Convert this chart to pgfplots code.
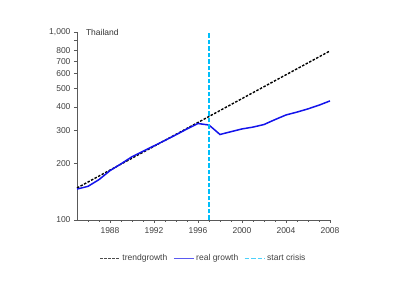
\documentclass[border=0pt]{standalone}
\usepackage{pgfplots}
\pgfplotsset{compat=1.18}
\usepackage{fontspec}
\setmainfont{Liberation Sans}
\definecolor{realblue}{RGB}{20,20,235}
\definecolor{crisis}{RGB}{0,190,250}
\begin{document}
\begin{tikzpicture}
\path (0pt,0pt) rectangle (400pt,300pt);
\begin{axis}[
  at={(77pt,80pt)}, anchor=south west,
  scale only axis, width=253pt, height=188pt,
  ymode=log, xmin=1985, xmax=2008, ymin=100, ymax=1000,
  axis x line*=bottom, axis y line*=left,
  axis line style={gray!70!black, line width=0.7pt},
  xtick={1988,1992,1996,2000,2004,2008},
  xticklabels={1988,1992,1996,2000,2004,2008},
  minor xtick={1986,1987,1989,1990,1991,1993,1994,1995,1997,1998,1999,2001,2002,2003,2005,2006,2007},
  ytick={100,200,300,400,500,600,700,800,900,1000},
  yticklabels={100,200,300,400,500,600,700,800,,{1,000}},
  tick align=outside, tick pos=left,
  major tick length=3pt, minor tick length=2pt,
  tick style={gray!70!black, line width=0.6pt},
  ticklabel style={font=\fontsize{8.5}{10}\selectfont, text=black!75},
  xticklabel style={yshift=-1pt},
  legend style={at={(0.5,-0.205)}, anchor=center, draw=none, fill=none,
    font=\fontsize{8.5}{10}\selectfont, text=black!75, legend columns=-1,
    /tikz/every even column/.append style={column sep=4pt}},
  legend image code/.code={\draw[#1, line width=0.9pt, opacity=0.7] (0pt,0pt) -- (20pt,0pt);},
  clip=false,
]
\addplot[black, line width=1.4pt, dash pattern=on 2.5pt off 1.5pt] coordinates {
(1985,148)(1986,159.2)(1987,171.3)(1988,184.2)(1989,198.2)(1990,213.2)(1991,229.3)
(1992,246.7)(1993,265.4)(1994,285.5)(1995,307.1)(1996,330.3)(1997,355.3)(1998,382.2)
(1999,411.2)(2000,442.3)(2001,475.8)(2002,511.8)(2003,550.6)(2004,592.3)(2005,637.1)
(2006,685.4)(2007,737.3)(2008,793.1)};
\addlegendentry{trendgrowth}
\addplot[color=realblue, line width=1.5pt] coordinates {
(1985,146)(1986,151)(1987,164)(1988,183)(1989,199)(1990,217)(1991,232)(1992,248)
(1993,265)(1994,284)(1995,305)(1996,326)(1997,320)(1998,285)(1999,295)(2000,305)
(2001,312)(2002,322)(2003,342)(2004,362)(2005,375)(2006,390)(2007,408)(2008,430)};
\addlegendentry{real growth}
\addplot[color=crisis, line width=1.2pt, dash pattern=on 4.5pt off 2pt] coordinates {(1997,100)(1997,1000)};
\addlegendentry{start crisis}
\node[anchor=west, font=\fontsize{8.5}{10}\selectfont, text=black!80] at (axis cs:1985.5,1000) {Thailand};
\end{axis}
\end{tikzpicture}
\end{document}
